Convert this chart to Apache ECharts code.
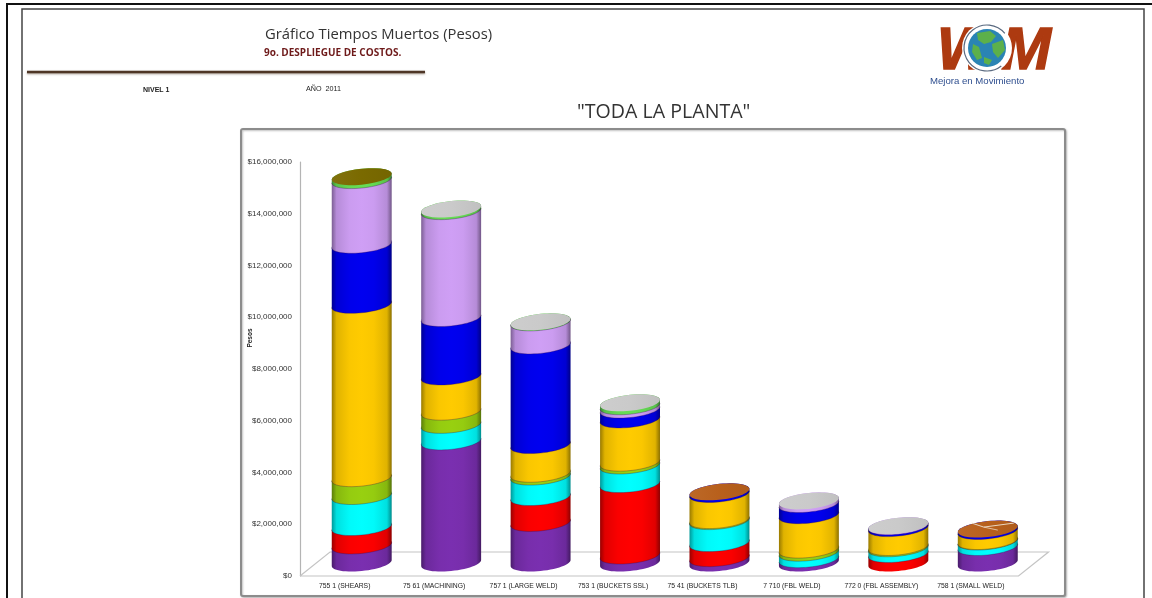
<!DOCTYPE html>
<html><head><meta charset="utf-8">
<style>html,body{margin:0;padding:0;background:#fff}#c{width:1152px;height:598px;filter:blur(0.5px)}</style>
<script src="https://cdn.jsdelivr.net/npm/echarts@6/dist/echarts.min.js"></script>
</head><body><div id="c"></div>
<script>
const categories = ['755 1 (SHEARS)','75 61 (MACHINING)','757 1 (LARGE WELD)','753 1 (BUCKETS SSL)','75 41 (BUCKETS TLB)','7 710 (FBL WELD)','772 0 (FBL ASSEMBLY)','758 1 (SMALL WELD)'];
const tickMax = 16000000, tickStep = 2000000;
// values in millions of pesos, bottom to top of every stack
const purple = [0.68,4.70,1.55,0.29,0.19,0.15,0,   0.62];
const red    = [0.71,0,   1.00,2.76,0.58,0,   0.35,0];
const cyan   = [1.20,0.64,0.79,0.72,0.85,0.25,0.22,0.21];
const green  = [0.69,0.51,0.11,0.11,0.04,0.12,0.05,0.02];
const yellow = [6.70,1.36,1.11,1.67,1.01,1.33,0.73,0.39];
const blue   = [2.32,2.26,3.85,0.38,0.08,0.43,0.07,0.07];
const lilac  = [2.50,4.13,0.89,0.13,0,   0.12,0.02,0];
const lime   = [0.13,0.08,0.02,0.13,0,   0,   0,   0];
const capColors = ['#7a6a00','#cacaca','#cacaca','#cacaca','#b8601c','#cacaca','#cacaca','#b8601c'];
const seriesDefs = [['Purple',purple,'#7a2fb0'],['Red',red,'#ff0000'],['Cyan',cyan,'#00ffff'],['Green',green,'#98d010'],
  ['Yellow',yellow,'#ffcb00'],['Blue',blue,'#0000f0'],['Lilac',lilac,'#cf9ff5'],['Lime',lime,'#66dd55']];

const DX=17, DY=-13, B=8, TILT=3, WR=0.335; // cylinder depth offset and ellipse shape
function shade(hex,f){const n=parseInt(hex.slice(1),16);const c=[n>>16,(n>>8)&255,n&255].map(v=>Math.min(255,Math.round(f>1?v+(255-v)*(f-1):v*f)));return `rgb(${c[0]},${c[1]},${c[2]})`;}
function grad(col){return new echarts.graphic.LinearGradient(0,0,1,0,[{offset:0,color:shade(col,0.6)},{offset:0.08,color:shade(col,0.88)},{offset:0.3,color:shade(col,0.98)},{offset:0.5,color:shade(col,1)},{offset:0.7,color:shade(col,0.98)},{offset:0.92,color:shade(col,0.88)},{offset:1,color:shade(col,0.55)}]);}
function arc(cx,cy,a,from,to,pts){const n=28;for(let i=0;i<=n;i++){const t=from+(to-from)*i/n;pts.push([cx+a*Math.cos(t),cy+B*Math.sin(t)-TILT*Math.cos(t)]);}return pts;}

const totals = categories.map(()=>0);
const series = [];
series.push({type:'custom',name:'Piso',silent:true,z:1,data:[[0]],renderItem(p,api){
  const g=p.coordinates||p.coordSys,L=g.x,R=g.x+g.width,Y=g.y+g.height;
  const st={stroke:'#c4c4c4',lineWidth:1.2,fill:null};
  return {type:'polyline',shape:{points:[[L,Y],[L+30,Y-24],[R+33,Y-24],[R+3,Y],[L,Y]]},style:st};
}});
seriesDefs.forEach(([name,vals,col])=>{
  const data=[];
  vals.forEach((v,i)=>{ if(v>0){ data.push([i,totals[i],totals[i]+v,v]); totals[i]+=v; } });
  series.push({type:'custom',name,z:3,silent:true,encode:{x:0,y:2},data:data.map(d=>[d[0],d[1]*1e6,d[2]*1e6]),
    renderItem(p,api){
      const i=api.value(0),lo=api.coord([i,api.value(1)]),hi=api.coord([i,api.value(2)]);
      const a=api.size([1,0])[0]*WR,cx=lo[0]+DX;
      const front=arc(cx,lo[1]+DY,a,Math.PI,0,[]);
      const pts=front.slice();arc(cx,hi[1]+DY,a,0,-Math.PI,pts);
      return {type:'group',children:[
        {type:'polygon',shape:{points:pts},style:{fill:grad(col)}},
        {type:'polyline',shape:{points:front},style:{stroke:api.value(1)>0?'rgba(50,10,70,.4)':'rgba(0,0,0,0)',lineWidth:0.8,fill:null}}
      ]};
    }});
});
series.push({type:'custom',name:'Tapa',z:4,silent:true,encode:{x:0,y:1},data:totals.map((t,i)=>[i,t*1e6]),
  renderItem(p,api){
    const i=api.value(0),c=api.coord([i,api.value(1)]);
    const a=api.size([1,0])[0]*WR,cx=c[0]+DX,cy=c[1]+DY;
    const kids=[{type:'polygon',shape:{points:arc(cx,cy,a,0,2*Math.PI,[])},style:{fill:new echarts.graphic.LinearGradient(0,0,1,0,[{offset:0,color:shade(capColors[i],1.05)},{offset:0.5,color:capColors[i]},{offset:1,color:shade(capColors[i],0.95)}])}}];
    if(i===7){
      kids.push({type:'polyline',shape:{points:[[cx-4,cy-2],[cx+26,cy-6]]},style:{stroke:'#ead6c0',lineWidth:1,fill:null}});
      kids.push({type:'polyline',shape:{points:[[cx-4,cy-2],[cx-16,cy-6]]},style:{stroke:'#ead6c0',lineWidth:1,fill:null}});
      kids.push({type:'polyline',shape:{points:[[cx-4,cy-2],[cx+10,cy+1]]},style:{stroke:'#ead6c0',lineWidth:0.8,fill:null}});
    }
    return {type:'group',children:kids};
  }});

const logoText={fontFamily:'Liberation Sans',fontWeight:'bold',fontStyle:'italic',fontSize:60,fill:'#ad3a10',stroke:'#ad3a10',lineWidth:1.5};
const land='#5cb04a';
const graphics=[
  {type:'rect',z:-10,shape:{x:7,y:4,width:1160,height:620},style:{fill:'#fff',stroke:'#111',lineWidth:2}},
  {type:'rect',z:-9,shape:{x:22,y:9,width:1122,height:620},style:{fill:'#fff',stroke:'#444',lineWidth:1.5}},
  {type:'line',shape:{x1:27,y1:72,x2:425,y2:72},style:{stroke:'#4e3626',lineWidth:2.6,shadowColor:'rgba(90,70,50,.5)',shadowBlur:2,shadowOffsetY:1}},
  {type:'text',x:265,y:35,style:{text:'Gráfico Tiempos Muertos (Pesos)',font:'14.8px "Open Sans"',fill:'#333',textVerticalAlign:'middle'}},
  {type:'text',x:264,y:53,style:{text:'9o. DESPLIEGUE DE COSTOS.',font:'bold 10px "Open Sans"',fill:'#6e1a1a',textVerticalAlign:'middle'}},
  {type:'text',x:143,y:90,style:{text:'NIVEL 1',font:'bold 7px "Liberation Sans"',fill:'#222',textVerticalAlign:'middle'}},
  {type:'text',x:306,y:89,style:{text:'AÑO  2011',font:'7.2px "Liberation Sans"',fill:'#222',textVerticalAlign:'middle'}},
  {type:'text',x:577,y:112,style:{text:'"TODA LA PLANTA"',font:'19.6px "Open Sans"',fill:'#333',textVerticalAlign:'middle'}},
  {type:'rect',z:-8,shape:{x:241,y:129,width:824,height:467,r:2},style:{fill:'#fff',stroke:'#8c8c8c',lineWidth:2,shadowColor:'rgba(0,0,0,.25)',shadowBlur:2,shadowOffsetX:1,shadowOffsetY:1}},
  {type:'text',x:250,y:338,rotation:Math.PI/2,style:{text:'Pesos',font:'bold 6.5px "Liberation Sans"',fill:'#222',textAlign:'center',textVerticalAlign:'middle'}},
  // logo
  {type:'text',x:937,y:52,style:Object.assign({text:'W',textVerticalAlign:'middle'},logoText)},
  {type:'text',x:1051,y:52,style:Object.assign({text:'M',textAlign:'right',textVerticalAlign:'middle'},logoText)},
  {type:'circle',shape:{cx:987,cy:48,r:25},style:{fill:'#fff'}},
  {type:'arc',shape:{cx:987,cy:48,r:23,startAngle:0.9,endAngle:5.6,clockwise:true},style:{stroke:'#5a6a80',lineWidth:1.2,fill:null}},
  {type:'circle',shape:{cx:987,cy:48,r:19},style:{fill:'#2a84b4'}},
  {type:'polygon',shape:{points:[[977,33],[990,31],[996,36],[991,42],[984,44],[978,40]]},style:{fill:land}},
  {type:'polygon',shape:{points:[[992,44],[1003,40],[1005,50],[998,58],[993,52]]},style:{fill:land}},
  {type:'polygon',shape:{points:[[973,44],[979,47],[982,58],[977,60],[972,52]]},style:{fill:land}},
  {type:'polygon',shape:{points:[[984,57],[992,60],[989,65],[984,63]]},style:{fill:land}},
  {type:'text',x:930,y:81,style:{text:'Mejora en Movimiento',font:'9.6px "Liberation Sans"',fill:'#2f4f8f',textVerticalAlign:'middle'}}
];

const option={
  animation:false,backgroundColor:'#fff',
  graphic:{elements:graphics},
  grid:{left:300,top:162,width:715.5,height:414},
  xAxis:{type:'category',data:categories,axisTick:{show:false},axisLine:{show:false},splitLine:{show:false},
    axisLabel:{interval:0,margin:7,fontFamily:'Liberation Sans',fontSize:6.8,color:'#222'}},
  yAxis:{type:'value',min:0,max:tickMax,interval:tickStep,axisTick:{show:false},splitLine:{show:false},
    axisLine:{show:true,lineStyle:{color:'#b4b4b4',width:1.2}},
    axisLabel:{margin:8,fontFamily:'Liberation Sans',fontSize:8,color:'#333',formatter:v=>'$'+v.toLocaleString('en-US')}},
  series
};
const chart=echarts.init(document.getElementById('c'),null,{renderer:'canvas'});
chart.setOption(option);
</script></body></html>
